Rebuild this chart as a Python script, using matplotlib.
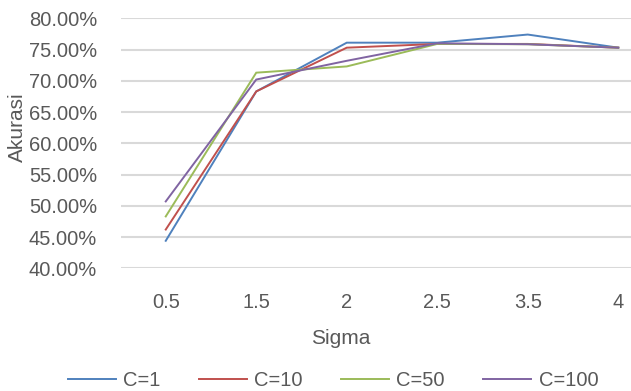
import matplotlib
matplotlib.use("Agg")
import matplotlib.pyplot as plt
from matplotlib.ticker import FuncFormatter

plt.rcParams['font.family'] = ['Liberation Sans', 'DejaVu Sans']

# sigma categories (x axis is categorical, as in the original spreadsheet chart)
sigma = ['0.5', '1.5', '2', '2.5', '3.5', '4']

# accuracy (%) per C value
c1 = [44.4, 68.3, 76.1, 76.1, 77.4, 75.3]
c10 = [46.2, 68.3, 75.3, 75.9, 75.9, 75.3]
c50 = [48.3, 71.3, 72.3, 75.9, 75.85, 75.3]
c100 = [50.7, 70.2, 73.2, 76.0, 75.85, 75.3]

series = [('C=1', c1, '#4F81BD'),
          ('C=10', c10, '#C0504D'),
          ('C=50', c50, '#9BBB59'),
          ('C=100', c100, '#8064A2')]

txt = '#595959'
W, H = 631, 391
fig = plt.figure(figsize=(W / 100, H / 100), dpi=100)
# plot area in pixels: left 120.5, right ~663 (cut by the image edge), top 18.3, bottom 268.3
ax = fig.add_axes([120.5 / W, 1 - 268.3 / H, 543 / W, 250 / H])

x = list(range(len(sigma)))
for name, vals, col in series:
    ax.plot(x, vals, color=col, lw=1.4, label=name, solid_joinstyle='miter')

ax.set_xlim(-0.5, len(sigma) - 0.5)
ax.set_ylim(40, 80)
ax.set_yticks(range(40, 81, 5))
ax.yaxis.set_major_formatter(FuncFormatter(lambda v, p: f'{v:.2f}%'))
ax.set_xticks(x)
ax.set_xticklabels(sigma)
ax.grid(axis='y', color='#D9D9D9', lw=1.5)
ax.set_axisbelow(True)
for s in ax.spines.values():
    s.set_visible(False)
ax.tick_params(length=0, labelsize=14.5, colors=txt)
ax.tick_params(axis='x', pad=18)
ax.tick_params(axis='y', pad=17)

fig.text(17 / W, 1 - 127 / H, 'Akurasi', rotation=90, ha='center', va='center',
         fontsize=15, color=txt)
fig.text(341 / W, 1 - 339 / H, 'Sigma', ha='center', va='center',
         fontsize=15, color=txt)

leg = fig.legend(loc='center', bbox_to_anchor=(333 / W, 1 - 381 / H), ncol=4,
                 frameon=False, fontsize=14.5, handlelength=2.4,
                 handletextpad=0.35, columnspacing=1.9)
for t in leg.get_texts():
    t.set_color(txt)

fig.savefig('out.png', dpi=100)
